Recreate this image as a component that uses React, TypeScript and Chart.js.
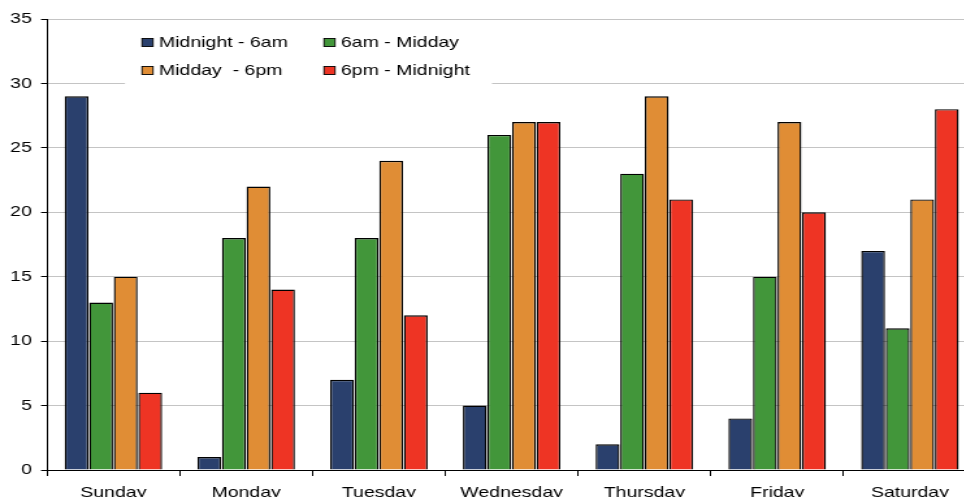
import React, { useEffect, useRef } from "react";
import { Chart, registerables } from "chart.js";

Chart.register(...registerables);

const days = ["Sunday", "Monday", "Tuesday", "Wednesday", "Thursday", "Friday", "Saturday"];
const seriesNames = ["Midnight - 6am", "6am - Midday", "Midday  - 6pm", "6pm - Midnight"];
const midnightTo6am = [29, 1, 7, 5, 2, 4, 17];
const sixamToMidday = [13, 18, 18, 26, 23, 15, 11];
const middayTo6pm = [15, 22, 24, 27, 29, 27, 21];
const sixpmToMidnight = [6, 14, 12, 27, 21, 20, 28];
const seriesColors = ["#2A406D", "#42963A", "#E08D35", "#EE3424"];

const FONT = "'Liberation Sans', Arial, sans-serif";
const STRETCH = 1.3;

// Two-column legend in a white box that sits inside the plot
const boxLegend = {
  id: "boxLegend",
  afterDraw(chart: Chart) {
    const ctx = chart.ctx;
    const x0 = 125 / STRETCH;
    const x1 = 492 / STRETCH;
    ctx.save();
    ctx.fillStyle = "#ffffff";
    ctx.fillRect(x0, 24, x1 - x0, 61);
    ctx.font = `15px ${FONT}`;
    ctx.textBaseline = "alphabetic";
    const cols = [142 / STRETCH, 324 / STRETCH];
    const rows = [46.5, 74.5];
    chart.data.datasets.forEach((ds: any, i: number) => {
      const cx = cols[i % 2];
      const cy = rows[Math.floor(i / 2)];
      ctx.fillStyle = ds.backgroundColor;
      ctx.fillRect(cx, cy - 8, 8.5, 8);
      ctx.strokeStyle = "#000000";
      ctx.lineWidth = 0.9;
      ctx.strokeRect(cx, cy - 8, 8.5, 8);
      ctx.fillStyle = "#000000";
      ctx.fillText(ds.label, cx + 13, cy);
    });
    ctx.restore();
  },
};

export default function App() {
  const canvasRef = useRef<HTMLCanvasElement | null>(null);

  useEffect(() => {
    if (!canvasRef.current) return;
    const values = [midnightTo6am, sixamToMidday, middayTo6pm, sixpmToMidnight];
    const chart = new Chart(canvasRef.current, {
      type: "bar",
      data: {
        labels: days,
        datasets: seriesNames.map((name, i) => ({
          label: name,
          data: values[i],
          backgroundColor: seriesColors[i],
          borderColor: "#000000",
          borderWidth: 1.4,
          categoryPercentage: 0.74,
          barPercentage: 0.97,
        })),
      },
      options: {
        animation: false,
        responsive: true,
        maintainAspectRatio: false,
        layout: { padding: { top: 19, right: 0, left: 0, bottom: 0 } },
        plugins: {
          legend: { display: false },
          tooltip: { enabled: false },
        },
        scales: {
          x: {
            grid: {
              drawOnChartArea: false,
              drawTicks: true,
              tickLength: 6,
              tickColor: "#000000",
            },
            border: { color: "#000000", width: 1 },
            ticks: {
              color: "#000000",
              font: { family: FONT, size: 15 },
              padding: 8,
              maxRotation: 0,
              autoSkip: false,
            },
            afterFit: (axis: any) => {
              axis.height = 40;
            },
          },
          y: {
            min: 0,
            max: 35,
            ticks: {
              stepSize: 5,
              color: "#000000",
              font: { family: FONT, size: 15 },
              padding: 7,
            },
            grid: {
              color: "#C4C4C4",
              lineWidth: 1,
              tickLength: 4.6,
              tickColor: "#000000",
            },
            border: { color: "#000000", width: 1 },
            afterFit: (axis: any) => {
              axis.width = 36.15;
            },
          },
        },
      },
      plugins: [boxLegend],
    });
    return () => chart.destroy();
  }, []);

  return (
    <div
      style={{
        position: "fixed",
        left: 0,
        top: 0,
        width: 964,
        height: 497,
        overflow: "hidden",
        background: "#ffffff",
      }}
    >
      <div
        style={{
          width: 751,
          height: 510,
          transform: `scaleX(${STRETCH})`,
          transformOrigin: "0 0",
        }}
      >
        <canvas ref={canvasRef} />
      </div>
    </div>
  );
}
